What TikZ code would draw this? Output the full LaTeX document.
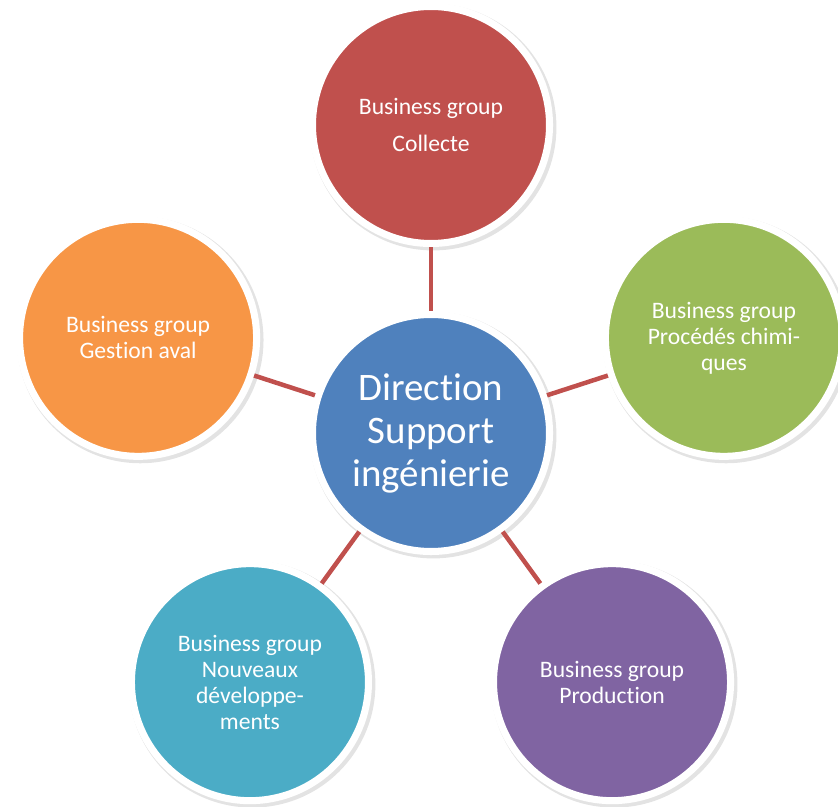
\documentclass[tikz,border=0pt]{standalone}
\usepackage{fontspec}
\setmainfont{Carlito}[Ligatures={NoCommon}]
\usetikzlibrary{shadows}
\definecolor{bgRed}{HTML}{C0504D}
\definecolor{bgBlue}{HTML}{4F81BD}
\definecolor{bgGreen}{HTML}{9BBB59}
\definecolor{bgOrange}{HTML}{F79646}
\definecolor{bgAqua}{HTML}{4BACC6}
\definecolor{bgPurple}{HTML}{8064A2}
\begin{document}
\begin{tikzpicture}[line cap=round,line join=round,
	bulle/.style={circle,minimum size=5.925cm,inner sep=0pt,draw=white,line width=5pt,text=white,align=center,
		font=\fontsize{16.8}{18.5}\selectfont,
		drop shadow={opacity=0.22,shadow scale=1.04,shadow xshift=1.5pt,shadow yshift=-1.5pt}},
	lien/.style={draw=bgRed,line width=3.2pt,line cap=butt}]
	\useasboundingbox (0,0) rectangle (20.95,20.175);
	\path
	(10.775,9.35)node[bulle,fill=bgBlue,font=\fontsize{27.7}{30.6}\selectfont](DS){Direction\\Support\\ingénierie}
	(10.775,17.05)node[bulle,fill=bgRed](BGC){Business group\\[8pt]Collecte}
	(18.098,11.729)node[bulle,fill=bgGreen](BGP){Business group\\Procédés chimi-\\ques}
	(15.301,3.121)node[bulle,fill=bgPurple](BGPr){Business group\\Production}
	(6.249,3.121)node[bulle,fill=bgAqua](BGN){Business group\\Nouveaux\\développe-\\ments}
	(3.452,11.729)node[bulle,fill=bgOrange](BGG){Business group\\Gestion aval}
	;
	\draw[lien](DS)--(BGC);
	\draw[lien](DS)--(BGP);
	\draw[lien](DS)--(BGPr);
	\draw[lien](DS)--(BGN);
	\draw[lien](DS)--(BGG);
\end{tikzpicture}
\end{document}
